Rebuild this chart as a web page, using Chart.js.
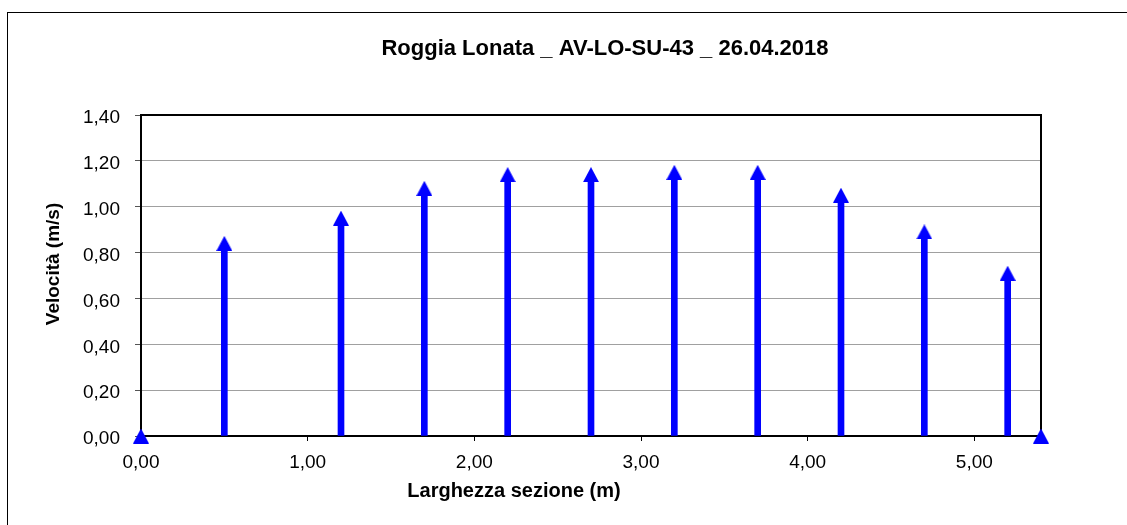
<!DOCTYPE html>
<html>
<head>
<meta charset="utf-8">
<script src="https://cdn.jsdelivr.net/npm/chart.js@4/dist/chart.umd.min.js"></script>
<style>
  html, body { margin: 0; padding: 0; background: #fff; }
  #wrap { width: 1127px; height: 525px; position: relative; }
</style>
</head>
<body>
<div id="wrap"><canvas id="chart"></canvas></div>
<script>
// section width (m) and measured velocity (m/s)
const larghezza = [0, 0.5, 1.2, 1.7, 2.2, 2.7, 3.2, 3.7, 4.2, 4.7, 5.2, 5.4];
const velocita = [0, 0.84, 0.95, 1.08, 1.14, 1.14, 1.15, 1.15, 1.05, 0.89, 0.71, 0];
const xTicks = [0, 1, 2, 3, 4, 5];
const yTicks = [0, 0.2, 0.4, 0.6, 0.8, 1.0, 1.2, 1.4];

const titolo = 'Roggia Lonata _ AV-LO-SU-43 _ 26.04.2018';
const titoloX = 'Larghezza sezione (m)';
const titoloY = 'Velocità (m/s)';

const BLUE = '#0000ff';
const FONT = "'Liberation Sans', Arial, sans-serif";

const points = larghezza.map((x, i) => ({ x, y: velocita[i] }));

// triangle marker, centred on its bounding box like the Excel one
const tri = document.createElement('canvas');
tri.width = 16; tri.height = 15;
const tctx = tri.getContext('2d');
tctx.fillStyle = BLUE;
tctx.beginPath();
tctx.moveTo(0, 15);
tctx.lineTo(8, 0);
tctx.lineTo(16, 15);
tctx.closePath();
tctx.fill();

const fmt = v => Number(v).toFixed(2).replace('.', ',');

const frames = {
  id: 'frames',
  beforeDraw(chart) {
    const ctx = chart.ctx;
    ctx.save();
    ctx.fillStyle = '#fff';
    ctx.fillRect(0, 0, chart.width, chart.height);
    ctx.strokeStyle = '#000';
    ctx.lineWidth = 1;
    ctx.strokeRect(7.5, 12.5, 1300, 700); // outer chart frame, cut by the picture edge
    ctx.restore();
  },
  beforeDatasetsDraw(chart) {
    const { ctx, chartArea: a } = chart;
    ctx.save();
    ctx.strokeStyle = '#000';
    ctx.lineWidth = 2;
    ctx.strokeRect(a.left, a.top, a.right - a.left, a.bottom - a.top);
    ctx.restore();
  },
  afterDraw(chart) {
    const ctx = chart.ctx;
    ctx.save();
    ctx.fillStyle = '#000';
    ctx.textAlign = 'center';
    ctx.textBaseline = 'alphabetic';
    ctx.font = 'bold 22px ' + FONT;
    ctx.fillText(titolo, 605, 55);
    ctx.font = 'bold 20px ' + FONT;
    ctx.fillText(titoloX, 514, 497);
    ctx.translate(59, 264);
    ctx.rotate(-Math.PI / 2);
    ctx.font = 'bold 19px ' + FONT;
    ctx.fillText(titoloY, 0, 0);
    ctx.restore();
  }
};

new Chart(document.getElementById('chart'), {
  type: 'scatter',
  data: {
    datasets: [
      {
        type: 'scatter',
        data: points,
        pointStyle: tri,
        pointRadius: 8,
        clip: false,
        order: 0
      },
      {
        type: 'bar',
        data: points,
        backgroundColor: BLUE,
        borderWidth: 0,
        barThickness: 6,
        clip: false,
        order: 1
      }
    ]
  },
  options: {
    responsive: true,
    maintainAspectRatio: false,
    animation: false,
    events: [],
    layout: { padding: { left: 0, top: 115, right: 86, bottom: 0 } },
    plugins: {
      legend: { display: false },
      tooltip: { enabled: false },
      title: { display: false }
    },
    scales: {
      x: {
        type: 'linear',
        offset: false,
        min: 0,
        max: 5.4,
        afterBuildTicks: s => { s.ticks = xTicks.map(v => ({ value: v })); },
        afterFit: s => { s.height = 89; },
        grid: { drawOnChartArea: false, offset: false, drawTicks: true, tickLength: 5, tickColor: '#000' },
        border: { display: true, color: '#000', width: 2 },
        ticks: {
          color: '#000',
          padding: 10,
          maxRotation: 0,
          font: { family: FONT, size: 19 },
          callback: v => fmt(v)
        }
      },
      y: {
        type: 'linear',
        min: 0,
        max: 1.4,
        afterBuildTicks: s => { s.ticks = yTicks.map(v => ({ value: v })); },
        afterFit: s => { s.width = 141; },
        grid: { color: '#a0a0a0', lineWidth: 1, tickLength: 6, tickColor: '#555' },
        border: { display: true, color: '#000', width: 2 },
        ticks: {
          color: '#000',
          padding: 15,
          labelOffset: 3,
          font: { family: FONT, size: 19 },
          callback: v => fmt(v)
        }
      }
    }
  },
  plugins: [frames]
});
</script>
</body>
</html>
